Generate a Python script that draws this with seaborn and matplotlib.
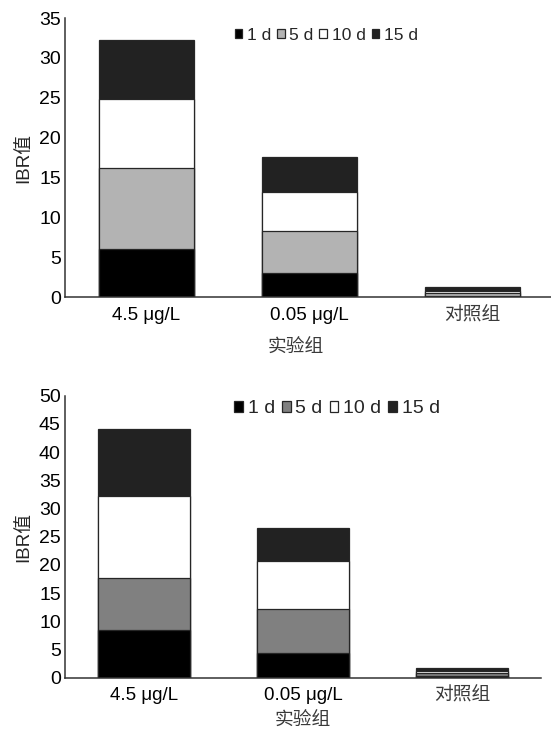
import matplotlib
matplotlib.use("Agg")
import matplotlib.pyplot as plt
from matplotlib.patches import Patch
import seaborn as sns
import pandas as pd

# Groups and exposure durations
groups = ["4.5 μg/L", "0.05 μg/L", "对照组"]
days = ["1 d", "5 d", "10 d", "15 d"]

# Upper panel: IBR values per duration
upper_1d = [6.0, 3.0, 0.15]
upper_5d = [10.2, 5.3, 0.45]
upper_10d = [8.6, 4.95, 0.25]
upper_15d = [7.4, 4.3, 0.4]

# Lower panel: IBR values per duration
lower_1d = [8.5, 4.3, 0.3]
lower_5d = [9.2, 7.8, 0.5]
lower_10d = [14.6, 8.6, 0.4]
lower_15d = [11.8, 5.8, 0.6]

upper_ticks = [0, 5, 10, 15, 20, 25, 30, 35]
lower_ticks = [0, 5, 10, 15, 20, 25, 30, 35, 40, 45, 50]

sns.set_theme(style="white")
plt.rcParams["font.family"] = ["Liberation Sans", "Noto Sans CJK SC", "DejaVu Sans"]

W, H = 551, 729
fig = plt.figure(figsize=(W / 100, H / 100), dpi=100)

EDGE = "#262626"
AXC = "#333333"


def draw_panel(ax, series, colors, ticks, ylim, legend_anchor, legend_size,
               xlabel_xy):
    df = pd.DataFrame({d: s for d, s in zip(days, series)}, index=groups)
    cum = df.cumsum(axis=1)
    # Overlay cumulative totals from the top layer down to build the stack
    for d, c in zip(days[::-1], colors[::-1]):
        sns.barplot(x=groups, y=cum[d].values, ax=ax, color=c, saturation=1,
                    width=0.58, edgecolor=EDGE, linewidth=0.9)
    ax.set_ylim(*ylim)
    ax.set_xlim(-0.5, 2.5)
    ax.set_yticks(ticks)
    ax.set_yticklabels([str(t) for t in ticks], fontsize=14)
    ax.tick_params(axis="y", direction="in", length=4, width=1, color=AXC,
                   pad=3, labelcolor="#000000")
    ax.tick_params(axis="x", length=0, pad=7, labelsize=13.5,
                   labelcolor="#000000")
    for lab in ax.get_xticklabels():
        if lab.get_text() == "对照组":
            lab.set_color("#3a3a3a")
            lab.set_fontweight("light")
    for side in ("top", "right"):
        ax.spines[side].set_visible(False)
    for side in ("left", "bottom"):
        ax.spines[side].set_color(AXC)
        ax.spines[side].set_linewidth(1.1)
    ax.set_ylabel("IBR值", fontsize=13.5, labelpad=5)
    ax.set_xlabel("实验组", fontsize=13.5, color="#3a3a3a", fontweight="light")
    ax.xaxis.set_label_coords(*xlabel_xy)
    handles = [Patch(facecolor=c, edgecolor=EDGE, linewidth=0.9, label=d)
               for d, c in zip(days, colors)]
    ax.legend(handles=handles, loc="center", bbox_to_anchor=legend_anchor,
              ncol=4, frameon=False, fontsize=legend_size, handlelength=0.45,
              handleheight=0.45, handletextpad=0.25, columnspacing=0.35,
              borderaxespad=0)


ax1 = fig.add_axes([65 / W, 1 - 297.3 / H, 489 / W, 279.3 / H])
draw_panel(ax1, [upper_1d, upper_5d, upper_10d, upper_15d],
           ["#000000", "#b3b3b3", "#ffffff", "#222222"],
           upper_ticks, (0, 35), (0.534, 0.939), 12.5, (0.472, -0.152))

ax2 = fig.add_axes([65 / W, 1 - 677.7 / H, 476.4 / W, 282 / H])
draw_panel(ax2, [lower_1d, lower_5d, lower_10d, lower_15d],
           ["#000000", "#808080", "#ffffff", "#222222"],
           lower_ticks, (0, 50), (0.571, 0.953), 14, (0.5, -0.125))

fig.savefig("out.png", dpi=100)
